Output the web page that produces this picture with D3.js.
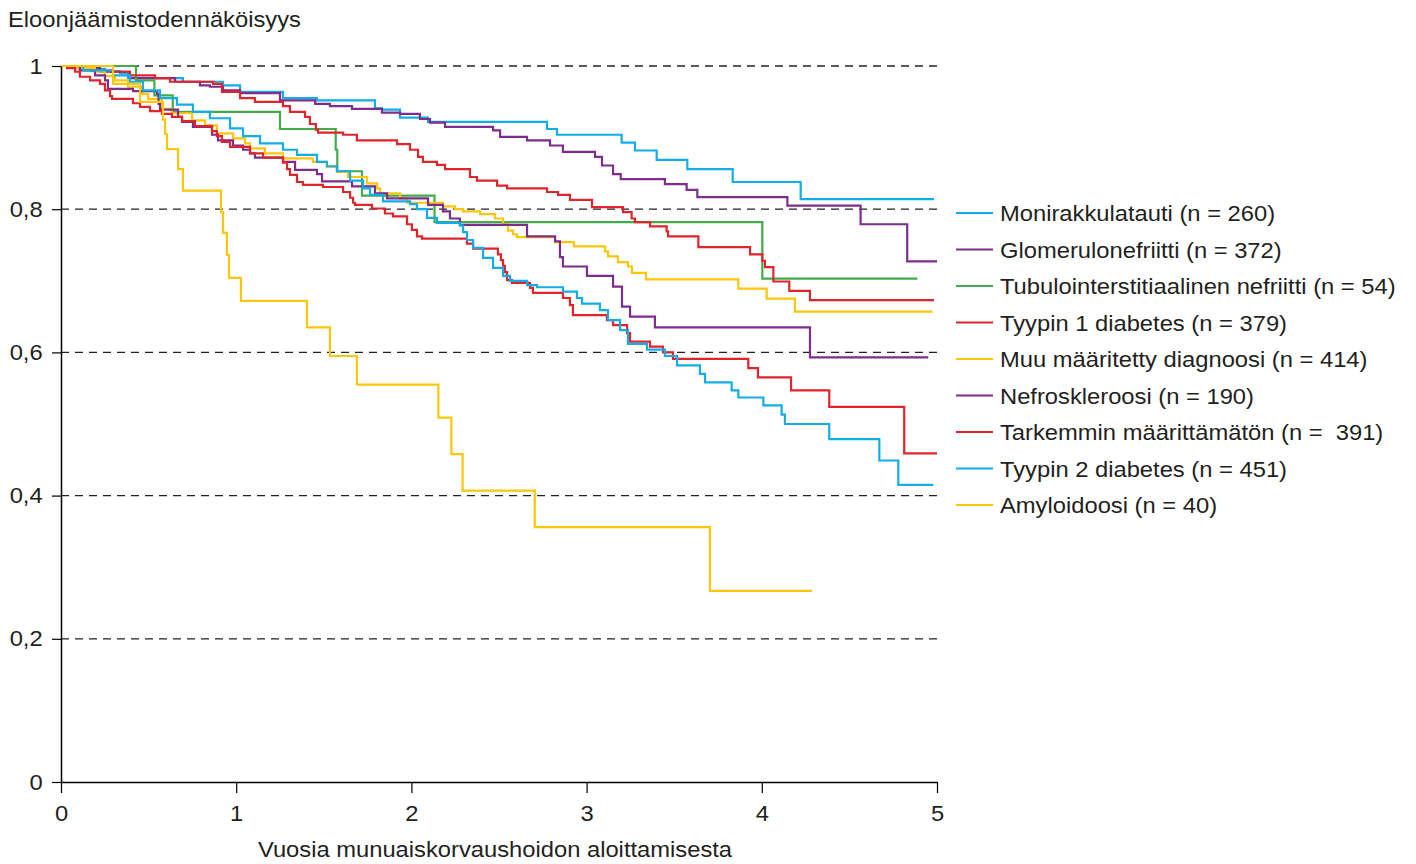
<!DOCTYPE html>
<html>
<head>
<meta charset="utf-8">
<script src="https://cdn.jsdelivr.net/npm/d3@7"></script>
<style>
  html, body { margin: 0; padding: 0; background: #fff; }
  svg { display: block; }
  text { font-family: "Liberation Sans", Arial, Helvetica, sans-serif; fill: #231f20; }
</style>
</head>
<body>
<svg id="chart" width="1416" height="864"></svg>
<script>
// Kaplan–Meier survival by primary diagnosis, 0–5 years after start of renal replacement therapy.
const categories = [
  "Monirakkulatauti", "Glomerulonefriitti", "Tubulointerstitiaalinen nefriitti",
  "Tyypin 1 diabetes", "Muu määritetty diagnoosi", "Nefroskleroosi",
  "Tarkemmin määrittämätön", "Tyypin 2 diabetes", "Amyloidoosi"
];
const legendLabels = [
  "Monirakkulatauti (n = 260)", "Glomerulonefriitti (n = 372)",
  "Tubulointerstitiaalinen nefriitti (n = 54)", "Tyypin 1 diabetes (n = 379)",
  "Muu määritetty diagnoosi (n = 414)", "Nefroskleroosi (n = 190)",
  "Tarkemmin määrittämätön (n =  391)", "Tyypin 2 diabetes (n = 451)",
  "Amyloidoosi (n = 40)"
];
const xTicks = [0, 1, 2, 3, 4, 5];
const yTicks = [0, 0.2, 0.4, 0.6, 0.8, 1];
const xTitle = "Vuosia munuaiskorvaushoidon aloittamisesta";
const yTitle = "Eloonjäämistodennäköisyys";

// Step curves: event times (years) and survival after each step.
const monTime = [0, 0.080, 0.166, 0.251, 0.337, 0.382, 0.696, 0.925, 1.022, 1.267, 1.461, 1.792, 1.832, 1.935, 2.095, 2.774, 2.831, 3.200, 3.276, 3.400, 3.575, 3.834, 4.222, 4.983];
const monSurv = [1, 0.998, 0.996, 0.993, 0.990, 0.983, 0.978, 0.973, 0.964, 0.955, 0.952, 0.941, 0.939, 0.928, 0.922, 0.912, 0.904, 0.893, 0.882, 0.869, 0.856, 0.838, 0.814, 0.814];

const gloTime = [0, 0.108, 0.223, 0.394, 0.651, 0.793, 0.850, 0.925, 1.022, 1.250, 1.450, 1.535, 1.661, 1.832, 1.935, 2.049, 2.106, 2.192, 2.466, 2.506, 2.660, 2.791, 2.865, 3.048, 3.088, 3.151, 3.195, 3.447, 3.571, 3.632, 4.146, 4.564, 4.830, 5.0];
const gloSurv = [1, 0.997, 0.992, 0.983, 0.978, 0.973, 0.971, 0.966, 0.962, 0.952, 0.947, 0.944, 0.940, 0.935, 0.933, 0.926, 0.921, 0.915, 0.910, 0.901, 0.896, 0.889, 0.880, 0.873, 0.861, 0.849, 0.842, 0.835, 0.827, 0.817, 0.805, 0.779, 0.727, 0.727];

const tubTime = [0, 0.428, 0.533, 0.638, 1.250, 1.568, 1.577, 1.718, 2.132, 4.003, 4.888];
const tubSurv = [1, 0.980, 0.959, 0.936, 0.912, 0.883, 0.853, 0.819, 0.782, 0.703, 0.703];

const dm1Time = [0, 0.080, 0.166, 0.280, 0.394, 0.537, 0.622, 0.868, 0.919, 1.022, 1.107, 1.267, 1.307, 1.393, 1.421, 1.455, 1.467, 1.610, 1.689, 1.918, 1.992, 2.038, 2.066, 2.146, 2.192, 2.334, 2.374, 2.489, 2.546, 2.774, 2.837, 2.905, 3.031, 3.208, 3.257, 3.276, 3.362, 3.457, 3.465, 3.638, 3.933, 4.003, 4.018, 4.066, 4.157, 4.275, 4.983];
const dm1Surv = [1, 0.997, 0.994, 0.992, 0.987, 0.983, 0.978, 0.975, 0.964, 0.955, 0.950, 0.944, 0.936, 0.929, 0.919, 0.911, 0.907, 0.904, 0.896, 0.891, 0.883, 0.873, 0.866, 0.862, 0.856, 0.845, 0.840, 0.833, 0.829, 0.824, 0.820, 0.813, 0.803, 0.796, 0.787, 0.782, 0.776, 0.769, 0.762, 0.747, 0.737, 0.728, 0.719, 0.699, 0.686, 0.673, 0.673];

const muuTime = [0, 0.080, 0.194, 0.251, 0.308, 0.382, 0.462, 0.497, 0.576, 0.633, 0.748, 0.822, 0.890, 0.982, 1.050, 1.079, 1.164, 1.267, 1.438, 1.518, 1.575, 1.638, 1.747, 1.804, 1.821, 1.935, 1.975, 2.180, 2.249, 2.295, 2.392, 2.477, 2.523, 2.551, 2.580, 2.603, 2.820, 2.928, 3.105, 3.122, 3.179, 3.236, 3.259, 3.339, 3.866, 4.028, 4.189, 4.975];
const muuSurv = [1, 0.997, 0.992, 0.986, 0.980, 0.971, 0.961, 0.954, 0.940, 0.934, 0.924, 0.917, 0.906, 0.899, 0.892, 0.885, 0.878, 0.871, 0.866, 0.859, 0.852, 0.845, 0.836, 0.829, 0.822, 0.815, 0.809, 0.804, 0.800, 0.797, 0.793, 0.787, 0.779, 0.770, 0.765, 0.761, 0.754, 0.748, 0.741, 0.734, 0.726, 0.720, 0.711, 0.702, 0.689, 0.675, 0.657, 0.657];

const nefTime = [0, 0.108, 0.194, 0.251, 0.268, 0.411, 0.548, 0.557, 0.565, 0.668, 0.691, 0.753, 0.862, 0.896, 0.982, 1.039, 1.079, 1.107, 1.267, 1.336, 1.461, 1.490, 1.661, 1.792, 1.861, 2.095, 2.180, 2.220, 2.277, 2.660, 2.820, 2.848, 2.865, 3.002, 3.151, 3.202, 3.248, 3.390, 4.275, 4.950];
const nefSurv = [1, 0.994, 0.987, 0.980, 0.968, 0.965, 0.961, 0.947, 0.939, 0.929, 0.922, 0.915, 0.904, 0.896, 0.889, 0.883, 0.878, 0.872, 0.866, 0.855, 0.849, 0.839, 0.832, 0.822, 0.815, 0.806, 0.797, 0.787, 0.778, 0.762, 0.755, 0.733, 0.720, 0.707, 0.692, 0.664, 0.650, 0.635, 0.593, 0.593];

const tarTime = [0, 0.034, 0.080, 0.108, 0.166, 0.223, 0.251, 0.280, 0.291, 0.411, 0.451, 0.508, 0.576, 0.633, 0.691, 0.765, 0.862, 0.890, 0.919, 0.965, 1.079, 1.153, 1.267, 1.290, 1.307, 1.347, 1.381, 1.495, 1.610, 1.650, 1.667, 1.678, 1.775, 1.849, 1.895, 1.975, 2.003, 2.032, 2.061, 2.317, 2.352, 2.494, 2.511, 2.523, 2.534, 2.546, 2.574, 2.677, 2.694, 2.865, 2.905, 2.922, 3.116, 3.151, 3.231, 3.248, 3.362, 3.436, 3.493, 3.923, 3.978, 4.167, 4.385, 4.813, 5.0];
const tarSurv = [1, 0.997, 0.992, 0.985, 0.980, 0.975, 0.966, 0.958, 0.954, 0.948, 0.943, 0.937, 0.933, 0.929, 0.923, 0.916, 0.909, 0.902, 0.894, 0.887, 0.878, 0.872, 0.865, 0.856, 0.848, 0.838, 0.834, 0.831, 0.824, 0.816, 0.809, 0.806, 0.801, 0.794, 0.790, 0.779, 0.771, 0.762, 0.759, 0.752, 0.745, 0.737, 0.729, 0.721, 0.712, 0.701, 0.697, 0.690, 0.683, 0.676, 0.666, 0.652, 0.645, 0.638, 0.627, 0.615, 0.608, 0.600, 0.591, 0.578, 0.565, 0.547, 0.524, 0.459, 0.459];

const dm2Time = [0, 0.126, 0.297, 0.394, 0.468, 0.565, 0.662, 0.753, 0.850, 0.965, 1.039, 1.136, 1.267, 1.347, 1.461, 1.518, 1.575, 1.650, 1.724, 1.764, 1.838, 1.992, 2.032, 2.089, 2.146, 2.277, 2.295, 2.317, 2.352, 2.409, 2.466, 2.523, 2.563, 2.660, 2.717, 2.865, 2.945, 2.974, 3.076, 3.122, 3.191, 3.236, 3.345, 3.447, 3.516, 3.647, 3.676, 3.828, 3.866, 4.009, 4.113, 4.132, 4.385, 4.671, 4.779, 4.979];
const dm2Surv = [1, 0.994, 0.987, 0.978, 0.966, 0.955, 0.946, 0.936, 0.927, 0.913, 0.902, 0.892, 0.883, 0.876, 0.866, 0.860, 0.853, 0.840, 0.829, 0.820, 0.811, 0.807, 0.800, 0.788, 0.781, 0.777, 0.768, 0.757, 0.746, 0.732, 0.718, 0.707, 0.700, 0.694, 0.691, 0.685, 0.676, 0.668, 0.659, 0.645, 0.631, 0.612, 0.604, 0.595, 0.582, 0.570, 0.558, 0.547, 0.537, 0.526, 0.513, 0.500, 0.479, 0.449, 0.415, 0.415];

const amyTime = [0, 0.297, 0.451, 0.582, 0.594, 0.605, 0.668, 0.696, 0.913, 0.925, 0.947, 0.959, 1.027, 1.404, 1.535, 1.689, 2.154, 2.228, 2.292, 2.704, 3.704, 4.287];
const amySurv = [1, 0.975, 0.950, 0.925, 0.905, 0.884, 0.856, 0.826, 0.796, 0.767, 0.736, 0.704, 0.672, 0.635, 0.595, 0.555, 0.509, 0.458, 0.407, 0.356, 0.267, 0.267];

const seriesTimes = [monTime, gloTime, tubTime, dm1Time, muuTime, nefTime, tarTime, dm2Time, amyTime];
const seriesSurv  = [monSurv, gloSurv, tubSurv, dm1Surv, muuSurv, nefSurv, tarSurv, dm2Surv, amySurv];

// Line colours, in legend order
const BLUE = "#12ade8", PURPLE = "#7d2d8c", GREEN = "#43ab4a", RED = "#e0242c", YELLOW = "#fcc70a";
const colors = [BLUE, PURPLE, GREEN, RED, YELLOW, PURPLE, RED, BLUE, YELLOW];

const FONT_SIZE = 22;
const STRETCH = 1.08;   // glyphs are set slightly wide

const svg = d3.select("#chart");
svg.append("rect").attr("width", 1416).attr("height", 864).attr("fill", "#fff");

const x = d3.scaleLinear().domain([0, 5]).range([61, 937]);
const y = d3.scaleLinear().domain([0, 1]).range([782, 66]);

const fmt = d3.formatLocale({ decimal: ",", thousands: " ", grouping: [3], currency: ["", "€"] }).format("~g");

// Dashed reference lines
svg.append("g")
  .selectAll("line")
  .data(yTicks.filter(v => v > 0))
  .join("line")
  .attr("x1", x(0)).attr("x2", 940)
  .attr("y1", d => y(d)).attr("y2", d => y(d))
  .attr("stroke", "#222")
  .attr("stroke-width", 1.3)
  .attr("stroke-dasharray", "8,6");

// Survival curves
const line = d3.line()
  .x(d => x(d[0]))
  .y(d => y(d[1]))
  .curve(d3.curveStepAfter);

const curves = svg.append("g").attr("fill", "none").attr("stroke-width", 2.2);
seriesTimes.forEach((times, i) => {
  const pts = times.map((t, j) => [t, seriesSurv[i][j]]);
  curves.append("path")
    .attr("d", line(pts))
    .attr("stroke", colors[i])
    .attr("stroke-linejoin", "miter");
});

// Axes
const yAxis = svg.append("g")
  .attr("transform", `translate(${x(0)},0)`)
  .call(d3.axisLeft(y).tickValues(yTicks).tickFormat(fmt).tickSize(9).tickSizeOuter(0).tickPadding(8));
const xAxis = svg.append("g")
  .attr("transform", `translate(0,${y(0)})`)
  .call(d3.axisBottom(x).tickValues(xTicks).tickFormat(fmt).tickSize(11).tickSizeOuter(0).tickPadding(12));

[yAxis, xAxis].forEach(g => {
  g.selectAll(".domain").attr("stroke", "#000").attr("stroke-width", 1.5);
  g.selectAll(".tick line").attr("stroke", "#000").attr("stroke-width", 1.2);
  g.selectAll(".tick text")
    .attr("font-family", null)
    .style("font-size", FONT_SIZE + "px")
    .attr("fill", "#231f20")
    .attr("transform", `scale(${STRETCH},1)`);
});

// Titles
svg.append("text")
  .attr("transform", `translate(8,27) scale(${STRETCH},1)`)
  .style("font-size", FONT_SIZE + "px")
  .text(yTitle);

svg.append("text")
  .attr("transform", `translate(${(x(0) + x(5)) / 2 - 4},857) scale(${STRETCH},1)`)
  .attr("text-anchor", "middle")
  .style("font-size", FONT_SIZE + "px")
  .text(xTitle);

// Legend
const legend = svg.append("g");
legendLabels.forEach((label, i) => {
  const cy = 213 + i * 36.5;
  legend.append("line")
    .attr("x1", 956).attr("x2", 993)
    .attr("y1", cy).attr("y2", cy)
    .attr("stroke", colors[i])
    .attr("stroke-width", 2.2);
  legend.append("text")
    .attr("transform", `translate(1000,${cy + 8}) scale(${STRETCH},1)`)
    .style("font-size", FONT_SIZE + "px")
    .style("white-space", "pre")
    .attr("xml:space", "preserve")
    .text(label);
});
</script>
</body>
</html>
